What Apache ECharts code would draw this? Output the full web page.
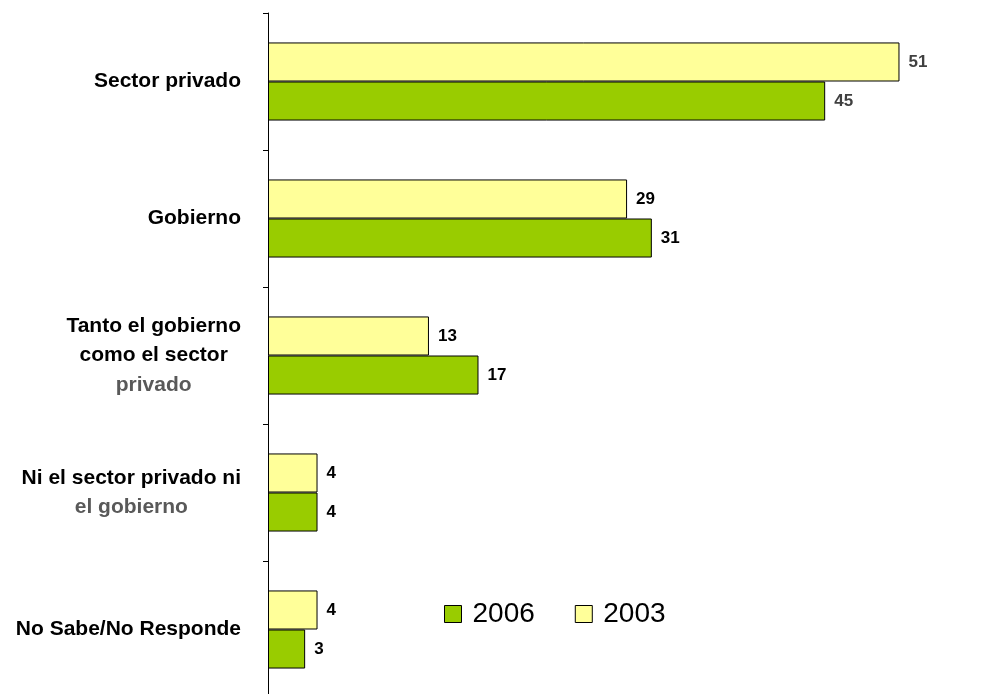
<!DOCTYPE html>
<html>
<head>
<meta charset="utf-8">
<script src="https://cdn.jsdelivr.net/npm/echarts@6/dist/echarts.min.js"></script>
<style>
html,body{margin:0;padding:0;background:#fff;overflow:hidden;}
#chart{width:1003px;height:704px;}
</style>
</head>
<body>
<div id="chart"></div>
<script>
const categories = [
  'Sector privado',
  'Gobierno',
  'Tanto el gobierno\ncomo el sector\nprivado',
  'Ni el sector privado ni\nel gobierno',
  'No Sabe/No Responde'
];
const values2003 = [51, 29, 13, 4, 4];
const values2006 = [45, 31, 17, 4, 3];
const seriesNames = ['2006', '2003'];

const FONT = 'Arial, "Liberation Sans", sans-serif';

function withLabelColors(arr) {
  return arr.map((v, i) => ({
    value: v,
    label: { color: i === 0 ? '#404040' : '#000000' }
  }));
}

const chart = echarts.init(document.getElementById('chart'), null, { renderer: 'canvas' });
chart.setOption({
  animation: false,
  backgroundColor: '#ffffff',
  grid: { left: 268, top: 13, width: 681, height: 685, containLabel: false },
  legend: {
    data: seriesNames,
    left: 444,
    top: 600,
    padding: 0,
    itemWidth: 17,
    itemHeight: 17,
    itemGap: 40,
    icon: 'rect',
    itemStyle: { borderColor: '#000', borderWidth: 1 },
    textStyle: { fontSize: 28, fontFamily: FONT, color: '#000', padding: [0, 0, 0, 6] }
  },
  xAxis: {
    type: 'value',
    min: 0,
    max: 55,
    show: false,
    splitLine: { show: false }
  },
  yAxis: {
    type: 'category',
    data: categories,
    inverse: true,
    axisLine: { show: true, lineStyle: { color: '#000', width: 1 } },
    axisTick: { show: true, length: 5, inside: false, lineStyle: { color: '#000' } },
    axisLabel: {
      margin: 27,
      fontFamily: FONT,
      fontSize: 21,
      fontWeight: 'bold',
      lineHeight: 29.5,
      formatter: function (val) {
        const lines = val.split('\n');
        if (lines.length === 1) return '{s|' + val + '}';
        return lines.map((l, i) => (i === lines.length - 1 ? '{g|' + l + '}' : '{b|' + l + '}')).join('\n');
      },
      rich: {
        s: { fontFamily: FONT, fontSize: 21, fontWeight: 'bold', color: '#000', lineHeight: 29.5 },
        b: { fontFamily: FONT, fontSize: 21, fontWeight: 'bold', color: '#000', align: 'center', lineHeight: 29.5 },
        g: { fontFamily: FONT, fontSize: 21, fontWeight: 'bold', color: '#595959', align: 'center', lineHeight: 29.5 }
      }
    },
    splitLine: { show: false }
  },
  series: [
    {
      name: '2003',
      type: 'bar',
      data: withLabelColors(values2003),
      barGap: '0%',
      barCategoryGap: '43%',
      itemStyle: { color: '#FFFF99', borderColor: '#000', borderWidth: 1 },
      label: {
        show: true, position: 'right', distance: 9,
        fontFamily: FONT, fontSize: 17, fontWeight: 'bold'
      }
    },
    {
      name: '2006',
      type: 'bar',
      data: withLabelColors(values2006),
      barGap: '0%',
      barCategoryGap: '43%',
      itemStyle: { color: '#99CC00', borderColor: '#000', borderWidth: 1 },
      label: {
        show: true, position: 'right', distance: 9,
        fontFamily: FONT, fontSize: 17, fontWeight: 'bold'
      }
    }
  ]
});
</script>
</body>
</html>
